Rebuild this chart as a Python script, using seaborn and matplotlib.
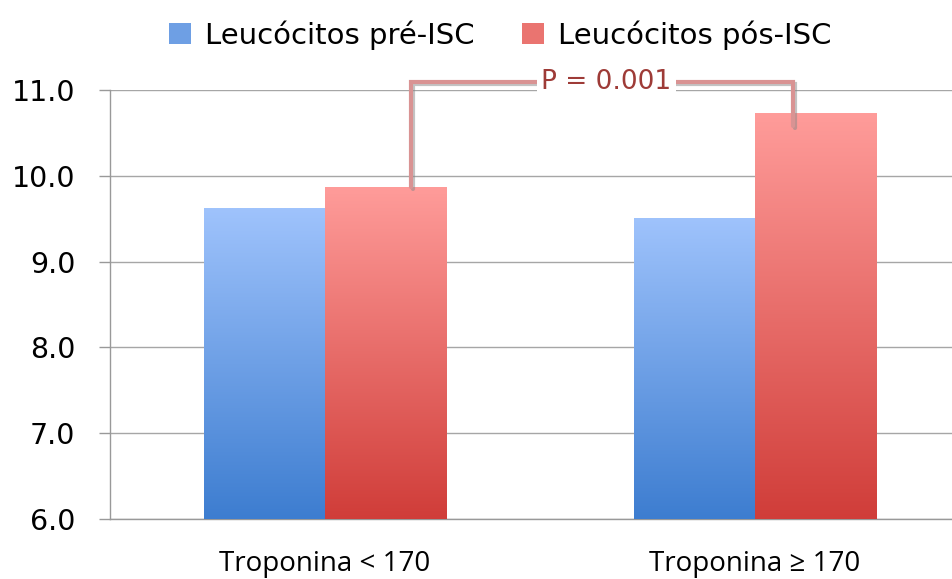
import numpy as np
import pandas as pd
import seaborn as sns
import matplotlib.pyplot as plt
import matplotlib.patheffects as pe
from matplotlib.colors import LinearSegmentedColormap
from matplotlib.patches import Patch

# values
groups = ['Troponina < 170', 'Troponina ≥ 170']
series = ['Leucócitos pré-ISC', 'Leucócitos pós-ISC']
pre_isc = [9.62, 9.51]
pos_isc = [9.87, 10.73]
p_label = 'P = 0.001'

df = pd.DataFrame({
    'grupo': groups * 2,
    'serie': [series[0]] * 2 + [series[1]] * 2,
    'valor': pre_isc + pos_isc,
})

sns.set_style('white')
plt.rcParams['font.family'] = ['DejaVu Sans']
plt.rcParams['text.color'] = 'black'
plt.rcParams['xtick.color'] = 'black'
plt.rcParams['ytick.color'] = 'black'

fig = plt.figure(figsize=(9.53, 5.79), dpi=100)
ax = fig.add_axes([0.1154, 0.1036, 0.9026, 0.741])

sns.barplot(data=df, x='grupo', y='valor', hue='serie', order=groups,
            hue_order=series, palette=['#6a9ee6', '#e66a66'], width=0.565,
            ax=ax, legend=False, zorder=3)

ax.set_ylim(6, 11)
ax.set_xlim(-0.5, 1.5)
ax.set_yticks(np.arange(6, 11.5, 1.0))
ax.set_yticklabels([f'{v:.1f}' for v in np.arange(6, 11.5, 1.0)], fontsize=20.5)
ax.set_xticks([0, 1])
ax.set_xticklabels(groups, fontsize=20, family=['Open Sans', 'DejaVu Sans'])
ax.set_xticks([-0.5, 0.5, 1.5], minor=True)
ax.tick_params(axis='x', which='major', length=0, pad=22)
ax.tick_params(axis='x', which='minor', length=6, color='#999999', width=1)
ax.tick_params(axis='y', length=8, color='#999999', labelcolor='black', width=1,
               pad=17, direction='out', left=True)
ax.set_xlabel('')
ax.set_ylabel('')
ax.yaxis.grid(True, color='#a6a6a6', linewidth=1)
ax.set_axisbelow(True)
for s in ['top', 'right']:
    ax.spines[s].set_visible(False)
for s in ['left', 'bottom']:
    ax.spines[s].set_color('#999999')
    ax.spines[s].set_linewidth(1)

# gradient fill for each bar
cmaps = {
    0: LinearSegmentedColormap.from_list('azul', ['#3d7dd0', '#9fc3fc']),
    1: LinearSegmentedColormap.from_list('verm', ['#d03d39', '#ff9c9a']),
}
grad = np.linspace(0, 1, 256).reshape(-1, 1)
bars = [p for p in ax.patches if p.get_height() > 0]
bars = sorted(bars, key=lambda p: p.get_x())
for i, bar in enumerate(bars):
    x0, w = bar.get_x(), bar.get_width()
    y1 = bar.get_height() + bar.get_y()
    cm = cmaps[i % 2]
    im = ax.imshow(grad, cmap=cm, origin='lower', aspect='auto',
                   extent=[x0, x0 + w, 6, y1], zorder=3)
    im.set_clip_path(bar)
    bar.set_facecolor('none')
    bar.set_edgecolor('none')
ax.set_xlim(-0.5, 1.5)
ax.set_ylim(6, 11)

# significance bracket
xl, xr = 0.2, 1.088
ytop = 11.09
shadow = [pe.SimpleLineShadow(offset=(1.5, -1.5), shadow_color='#888888', alpha=0.5), pe.Normal()]
ax.plot([xl, xl, xr, xr], [pos_isc[0], ytop, ytop, pos_isc[1] - 0.15],
        color='#d99393', linewidth=3, clip_on=False, zorder=5,
        solid_joinstyle='miter', path_effects=shadow)
ax.text((xl + xr) / 2 + 0.01, ytop, p_label, fontsize=19, color='#9e3b37',
        ha='center', va='center', clip_on=False, zorder=6,
        bbox=dict(facecolor='white', edgecolor='none', pad=3))

handles = [Patch(facecolor='#6e9fe4', edgecolor='none'),
           Patch(facecolor='#ea7470', edgecolor='none')]
fig.legend(handles, series, loc='upper center', bbox_to_anchor=(0.525, 1.01),
           ncol=2, frameon=False, fontsize=21, handlelength=0.75, handleheight=0.75,
           columnspacing=1.6, handletextpad=0.5)

fig.savefig('out.png', dpi=100)
